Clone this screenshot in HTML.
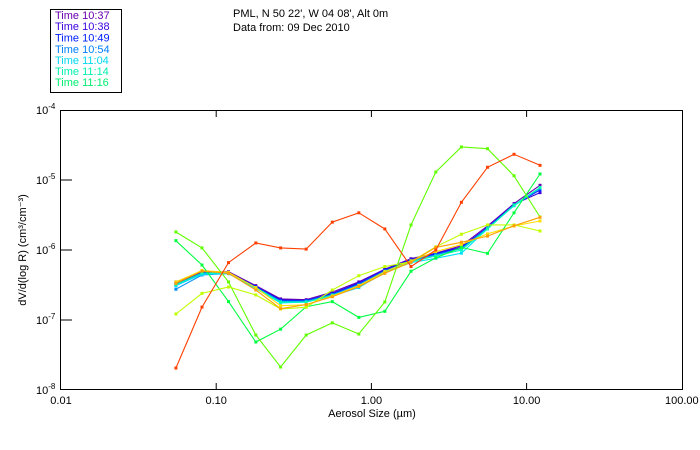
<!DOCTYPE html>
<html><head><meta charset="utf-8"><style>
body{margin:0;background:#fff;}
svg{display:block;font-family:"Liberation Sans",sans-serif;}
</style></head><body>
<svg id="chart" width="700" height="450" viewBox="0 0 700 450" xmlns="http://www.w3.org/2000/svg">
<g>
<rect x="50.5" y="9.5" width="71" height="83" fill="#fff" stroke="#000"/>
<g font-size="11">
<text x="55" y="19" fill="#6a00b0">Time 10:37</text>
<text x="55" y="30" fill="#3a00e0">Time 10:38</text>
<text x="55" y="41.5" fill="#0020ff">Time 10:49</text>
<text x="55" y="53" fill="#0080ff">Time 10:54</text>
<text x="55" y="64" fill="#00d8f0">Time 11:04</text>
<text x="55" y="75" fill="#00f0b0">Time 11:14</text>
<text x="55" y="86" fill="#00ee70">Time 11:16</text>
</g></g>
<text x="233" y="17" font-size="11">PML, N 50 22', W 04 08', Alt 0m</text>
<text x="233" y="31" font-size="11">Data from: 09 Dec 2010</text>
<rect x="60.5" y="110.5" width="622" height="279" fill="none" stroke="#000"/>
<g id="axes"></g>
<g id="series"></g>
<text x="372" y="417" font-size="11" text-anchor="middle">Aerosol Size (µm)</text>
<text transform="translate(26,250) rotate(-90)" font-size="11" text-anchor="middle">dV/d(log R) (cm³/cm⁻³)</text>
</svg>
<script>
const sizes=[0.055,0.081,0.12,0.18,0.26,0.38,0.56,0.83,1.22,1.8,2.6,3.8,5.6,8.3,12.2];
const xTicks=[0.01,0.1,1,10,100];
const xTickLabels=["0.01","0.10","1.00","10.00","100.00"];
const yTicks=[1e-4,1e-5,1e-6,1e-7,1e-8];
const yTickExps=["-4","-5","-6","-7","-8"];
const seriesColors=["#6a00b0","#3a00e0","#0030ff","#0090ff","#00e0ff","#00ffb0","#ffe000","#00ff40","#60ff00","#c0ff00","#ffa000","#ff4000"];
const s1037=[3.5e-7,4.8e-7,4.9e-7,3.1e-7,2.0e-7,1.95e-7,2.5e-7,3.5e-7,5.3e-7,7.5e-7,9.0e-7,1.15e-6,2.2e-6,4.6e-6,8.4e-6];
const s1038=[3.3e-7,4.8e-7,4.8e-7,3.0e-7,1.95e-7,1.9e-7,2.4e-7,3.4e-7,5.3e-7,7.4e-7,8.9e-7,1.1e-6,2.1e-6,4.5e-6,6.6e-6];
const s1049=[3.1e-7,4.6e-7,4.7e-7,3.0e-7,1.9e-7,1.9e-7,2.35e-7,3.3e-7,5.1e-7,7.2e-7,8.7e-7,1.08e-6,2.1e-6,4.4e-6,7.2e-6];
const s1054=[2.75e-7,4.4e-7,4.6e-7,2.9e-7,1.85e-7,1.85e-7,2.3e-7,3.2e-7,5.0e-7,7.0e-7,8.5e-7,1.05e-6,2.05e-6,4.3e-6,7.6e-6];
const s1104=[3.1e-7,4.5e-7,4.6e-7,2.8e-7,1.75e-7,1.8e-7,2.2e-7,2.9e-7,4.8e-7,6.6e-7,7.6e-7,9.0e-7,2.0e-6,4.3e-6,7.8e-6];
const s1114=[3.2e-7,4.7e-7,4.7e-7,2.9e-7,1.8e-7,1.8e-7,2.25e-7,3.0e-7,4.9e-7,6.8e-7,8.2e-7,1.0e-6,2.0e-6,4.4e-6,7.8e-6];
const sYellow=[3.5e-7,5.1e-7,4.8e-7,2.9e-7,1.6e-7,1.65e-7,2.2e-7,3.1e-7,4.9e-7,7.0e-7,9.5e-7,1.2e-6,1.7e-6,2.2e-6,2.6e-6];
const sGreenA=[1.36e-6,6.1e-7,1.83e-7,4.85e-8,7.4e-8,1.55e-7,1.83e-7,1.09e-7,1.33e-7,4.97e-7,7.7e-7,1.09e-6,8.95e-7,3.4e-6,1.22e-5];
const sLime=[1.81e-6,1.07e-6,3.5e-7,6.1e-8,2.13e-8,6.1e-8,9.1e-8,6.3e-8,1.81e-7,2.28e-6,1.3e-5,2.96e-5,2.8e-5,1.15e-5,2.96e-6];
const sYellowGreen=[1.22e-7,2.4e-7,2.96e-7,2.28e-7,1.44e-7,1.52e-7,2.68e-7,4.3e-7,5.8e-7,6.8e-7,1.11e-6,1.68e-6,2.28e-6,2.28e-6,1.87e-6];
const sOrange=[3.34e-7,5.0e-7,4.64e-7,2.68e-7,1.45e-7,1.66e-7,2.15e-7,3.0e-7,4.64e-7,6.7e-7,1.09e-6,1.29e-6,1.58e-6,2.22e-6,2.93e-6];
const sRed=[2.06e-8,1.53e-7,6.6e-7,1.26e-6,1.07e-6,1.03e-6,2.5e-6,3.4e-6,2.0e-6,5.8e-7,1.0e-6,4.8e-6,1.52e-5,2.33e-5,1.62e-5];
const allSeries=[s1037,s1038,s1049,s1054,s1104,s1114,sYellow,sGreenA,sLime,sYellowGreen,sOrange,sRed];
const seriesNames=["series-1037","series-1038","series-1049","series-1054","series-1104","series-1114","series-yellow","series-green","series-lime","series-yellowgreen","series-orange","series-red"];

const NS="http://www.w3.org/2000/svg";
const X0=61,XD=155.2,Y0=110,YD=70;
function xs(v){return X0+(Math.log10(v)+2)*XD;}
function ys(v){return Y0+(-4-Math.log10(v))*YD;}
function mk(tag,attrs,parent){const e=document.createElementNS(NS,tag);for(const k in attrs)e.setAttribute(k,attrs[k]);parent.appendChild(e);return e;}
const axes=document.getElementById('axes');
xTicks.forEach((t,i)=>{
  const x=xs(t);
  if(i>0&&i<xTicks.length-1){const l=mk('line',{x1:x,x2:x,y1:389,y2:383,stroke:'#000'},axes);
    
    
    const l2=mk('line',{x1:x,x2:x,y1:111,y2:117,stroke:'#000'},axes);
    
    }
  const tx=mk('text',{x:x,y:404,'font-size':11,'text-anchor':'middle'},axes);
  tx.textContent=xTickLabels[i];
  
  
});
yTicks.forEach((t,i)=>{
  const y=ys(t);
  if(i>0&&i<yTicks.length-1){const l=mk('line',{x1:61,x2:72,y1:y,y2:y,stroke:'#000'},axes);
    
    }
  const tx=mk('text',{x:36,y:y+4,'font-size':11},axes);
  tx.textContent='10';
  
  
  const ex=mk('tspan',{dy:-5,'font-size':8},tx);ex.textContent=yTickExps[i];
});
const sg=document.getElementById('series');
allSeries.forEach((vals,si)=>{
  const g=mk('g',{},sg);
  
  
  const pts=vals.map((v,i)=>xs(sizes[i]).toFixed(1)+','+ys(v).toFixed(1)).join(' ');
  const pl=mk('polyline',{points:pts,fill:'none',stroke:seriesColors[si],'stroke-width':1.1},g);
  
  
  vals.forEach((v,i)=>{
    const r=mk('rect',{x:xs(sizes[i])-1.5,y:ys(v)-1.5,width:3,height:3,fill:seriesColors[si]},g);
    
    
  });
});
</script>
</body></html>
